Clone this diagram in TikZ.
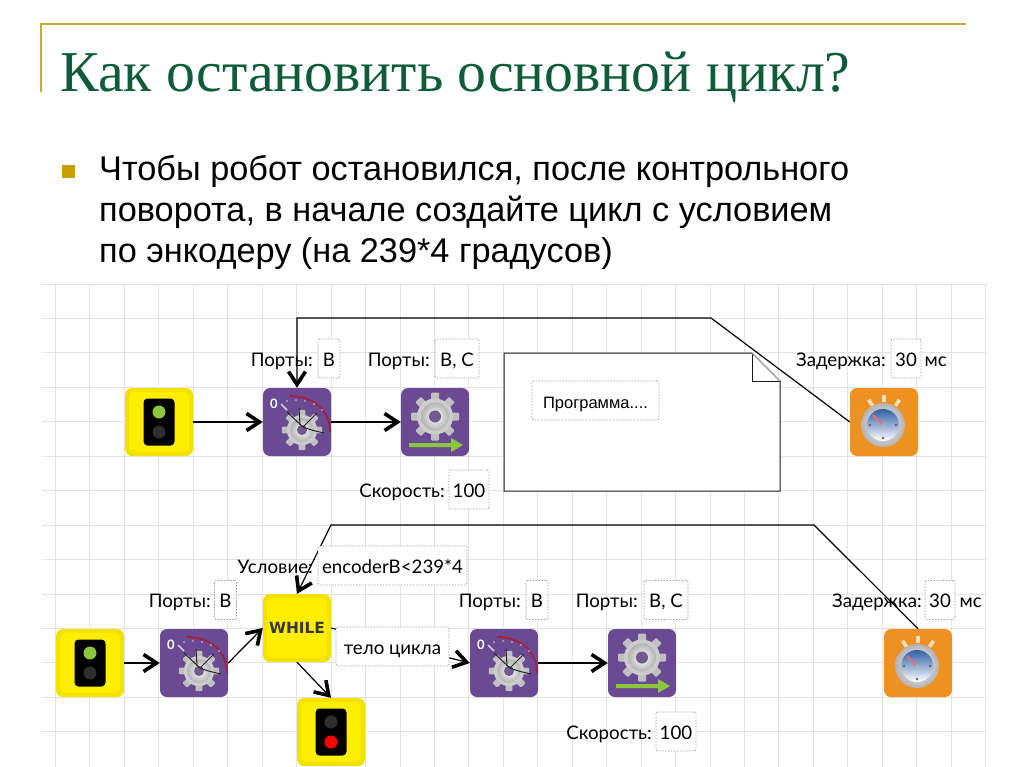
\documentclass[tikz,border=0pt]{standalone}
\usepackage{fontspec}
\setmainfont{Liberation Sans}
\newfontfamily\titlefont{Liberation Serif}
\newfontfamily\blockfont{Lato}
\newfontfamily\whilefont{DejaVu Sans}
\usetikzlibrary{arrows.meta}
\definecolor{goldline}{HTML}{C8A93C}
\definecolor{goldbullet}{HTML}{CC9F00}
\definecolor{titlegreen}{HTML}{0F5C3C}
\definecolor{gridcol}{HTML}{E4E4E4}
\definecolor{nxtpurple}{HTML}{6A4B93}
\definecolor{nxtorange}{HTML}{EF9120}
\definecolor{nxtyellow}{HTML}{FFEE00}
\definecolor{yellowedge}{HTML}{F3E200}
\definecolor{clockblue}{HTML}{2F5FA8}
\definecolor{arcred}{HTML}{A5203F}
\definecolor{gogreen}{HTML}{8CC63F}
\tikzset{
  gearicon/.pic={
    \foreach \a in {0,45,...,315}{\fill[gray!50,rotate=\a,rounded corners=1pt] (-4,-24) rectangle (4,0);}
    \fill[gray!40] (0,0) circle (18);
    \shade[inner color=white,outer color=gray!60] (0,0) circle (14);
    \fill[nxtpurple!70!gray] (0,0) circle (6);
  },
  encicon/.pic={
    \pic[xshift=5pt,yshift=-8pt,scale=0.84] {gearicon};
    \draw[arcred,line width=1.8pt] (-7,-26) .. controls (16,-26) and (33,-12) .. (33,10);
    \foreach \a/\b in {-10/-21,-1/-22,8/-21,17/-18,25/-12}{\fill[white!70!nxtpurple] (\a,\b) circle (0.8);}
    \node[text=white,inner sep=0pt,font=\blockfont\bfseries\fontsize{13}{13}\selectfont] (zero) at (-23,-18) {0};
    \draw[white!70!nxtpurple,line width=1.5pt] (-16,-18) -- (-10,-12);
    \draw[black!85,line width=1pt] (-10,-10) -- (6,5) .. controls (14,8) .. (27,11);
    \draw[black!85,line width=1pt] (2,-14) -- (3,3);
    \draw[black!85,line width=1pt] (20,-9) -- (6,5);
  },
  motoricon/.pic={
    \pic[yshift=5.5pt] {gearicon};
    \fill[gogreen] (-26,21) -- (16,21) -- (16,16) -- (28,23) -- (16,30) -- (16,25) -- (-26,25) -- cycle;
  },
  clockicon/.pic={
    \foreach \a in {-35,0,35}{\fill[white!75!orange,rotate=\a] (-1.8,-27) rectangle (1.8,-20);}
    \shade[inner color=white,outer color=gray!60] (-1,3) circle (22);
    \shade[top color=clockblue,bottom color=white] (-1,3) circle (16);
    \foreach \p in {(-14,3),(12,3),(-1,-11),(-1,16)}{\fill[gray!80!black] \p circle (1.3);}
    \draw[red!60,line width=1.5pt] (-1,3) -- (-11,-7);
    \fill[gray!60] (-1,3) circle (1.6);
  },
  goicon/.pic={
    \fill[black,rounded corners=4pt] (-15.5,-23.5) rectangle (15.5,23.5);
    \fill[gogreen] (0,-10) circle (6.5);
    \fill[black!82] (0,10) circle (6.5);
  },
  stopicon/.pic={
    \fill[black,rounded corners=4pt] (-15.5,-23.5) rectangle (15.5,23.5);
    \fill[black!82] (0,-10) circle (6.5);
    \fill[red] (0,10) circle (6.5);
  },
}
\begin{document}
\begin{tikzpicture}[x=1pt,y=-1pt, every node/.style={font=\blockfont\fontsize{18.7}{20}\selectfont},
  block/.style={rounded corners=7pt,minimum size=68pt,inner sep=0pt},
  yellowblock/.style={block,fill=yellowedge,path picture={\fill[nxtyellow,rounded corners=6pt] ([shift={(-30,-30)}]path picture bounding box.center) rectangle ([shift={(30,30)}]path picture bounding box.center);}},
  purpleblock/.style={block,fill=nxtpurple},
  orangeblock/.style={block,fill=nxtorange},
  valbox/.style={draw=gray!75,line width=0.8pt,dash pattern=on 1.5pt off 1.5pt,rounded corners=2pt,fill=white,minimum height=39pt,minimum width=#1,inner sep=0pt,text height=15pt,text depth=0pt},
  valbox/.default=22pt,
  caption/.style={anchor=east,inner sep=0pt,text height=13pt,text depth=0pt},
  arr/.style={-{Straight Barb[line width=3.6pt,length=13pt,width=17pt]},line width=1.2pt},
  gridline/.style={gridcol,line width=1pt}]
\useasboundingbox (0,0) rectangle (1024,767);
\fill[white] (0,0) rectangle (1024,767);
% title and text
\draw[goldline,line width=2pt] (41,92) -- (41,24) -- (966,24);
\node[anchor=base west,inner sep=0pt,text=titlegreen,font=\titlefont\fontsize{57.8}{60}\selectfont] (title) at (60,92) {Как остановить основной цикл?};
\fill[goldbullet] (62,165) rectangle (75,178);
\node[anchor=north west,inner sep=0pt,align=left,font=\rmfamily\fontsize{34.3}{41}\selectfont] (body) at (99,155) {Чтобы робот остановился, после контрольного\\поворота, в начале создайте цикл с условием\\по энкодеру (на 239*4 градусов)};
% grid
\foreach \i in {0,...,27}{\draw[gridline] ({55.5+34.45*\i},284) -- ++(0,483);}
\foreach \j in {0,...,13}{\draw[gridline] (42,{284+34.45*\j}) -- (988,{284+34.45*\j});}
% upper program
\draw[gray!20!black,line width=1pt,fill=white] (504,353) -- (752,353) -- (780,381) -- (780,491) -- (504,491) -- cycle;
\draw[gray!20!black,line width=1pt] (752,353) -- (752,381) -- (780,381);
\draw[gray!70,line width=1pt] (752,353) -- (780,381);
\node[yellowblock] (go1) at (159,422) {};
\node[purpleblock] (enc1) at (297,422) {};
\node[purpleblock] (mot1) at (435,422) {};
\node[orangeblock] (clk1) at (884,422) {};
\coordinate (bend1a) at (711,318);
\coordinate (bend1b) at (297,318);
\draw[arr] (go1) -- (enc1);
\draw[arr] (enc1) -- (mot1);
\draw[arr] (clk1.west) -- (bend1a) -- (bend1b) -- (enc1.north);
\node[caption] (portlbl1) at (313,359.5) {Порты:};
\node[valbox] (portval1) at (329,358.5) {B};
\node[caption] (portlbl2) at (430,359.5) {Порты:};
\node[valbox=44pt] (portval2) at (457,358.5) {B, C};
\node[caption] (spdlbl1) at (445,490.5) {Скорость:};
\node[valbox=40pt] (spdval1) at (469,489.5) {100};
\node[valbox=127pt,font=\rmfamily\fontsize{16.5}{20}\selectfont] (prog) at (595.5,400.5) {Программа....};
\node[caption] (dellbl1) at (886,359.5) {Задержка:};
\node[valbox=30pt] (delval1) at (906,358.5) {30};
\node[caption] (delunit1) at (947,359.5) {мс};
% lower program
\node[yellowblock] (go2) at (90,663) {};
\node[purpleblock] (enc2) at (194,663) {};
\node[yellowblock,text=black!78,font=\whilefont\bfseries\fontsize{15.4}{15.4}\selectfont] (loop) at (297,628) {WHILE};
\node[yellowblock] (halt) at (331,732) {};
\node[purpleblock] (enc3) at (504,663) {};
\node[purpleblock] (mot2) at (642,663) {};
\node[orangeblock] (clk2) at (918,663) {};
\coordinate (bend2a) at (814,525);
\coordinate (bend2b) at (331,525);
\draw[arr] (go2) -- (enc2);
\draw[arr] (enc2.east) -- (loop.west);
\draw[arr] (loop.south) -- (halt.north);
\draw[arr] (loop.east) -- (enc3.west);
\draw[arr] (enc3) -- (mot2);
\draw[arr] (clk2.north) -- (bend2a) -- (bend2b) -- (loop.north);
\node[caption] (condlbl) at (313,566.5) {Условие:};
\node[valbox=149pt] (condval) at (392.5,565.5) {encoderB<239*4};
\node[caption] (portlbl3) at (211,601) {Порты:};
\node[valbox] (portval3) at (225.5,600) {B};
\node[valbox=113pt] (body2) at (392.5,646.5) {тело цикла};
\node[caption] (portlbl4) at (521,601) {Порты:};
\node[valbox] (portval4) at (537,600) {B};
\node[caption] (portlbl5) at (638,601) {Порты:};
\node[valbox=44pt] (portval5) at (666,600) {B, C};
\node[caption] (spdlbl2) at (652,732.5) {Скорость:};
\node[valbox=40pt] (spdval2) at (676,731.5) {100};
\node[caption] (dellbl2) at (922,601) {Задержка:};
\node[valbox=30pt] (delval2) at (940,600) {30};
\node[caption] (delunit2) at (982,601) {мс};
% icons
\foreach \n in {go1,go2}{\pic at (\n) {goicon};}
\pic at (halt) {stopicon};
\foreach \n in {enc1,enc2,enc3}{\pic at (\n) {encicon};}
\foreach \n in {mot1,mot2}{\pic at (\n) {motoricon};}
\foreach \n in {clk1,clk2}{\pic at (\n) {clockicon};}
\end{tikzpicture}
\end{document}
